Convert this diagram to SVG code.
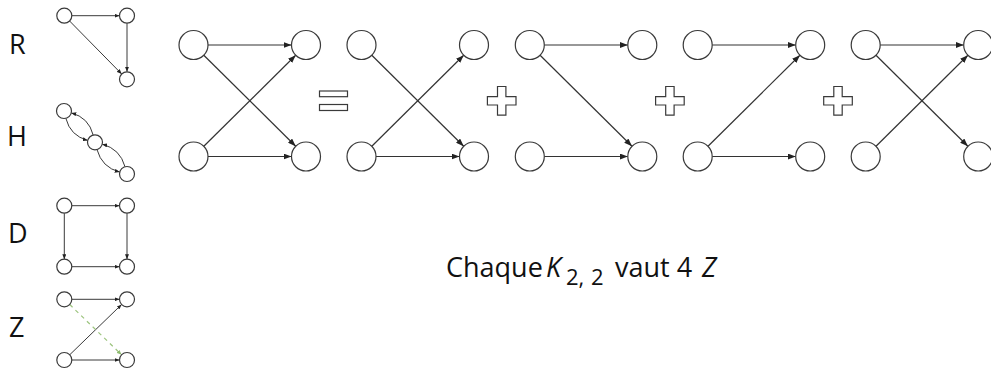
<svg xmlns="http://www.w3.org/2000/svg" width="991" height="370" viewBox="0 0 991 370">
<style>
.n{fill:#fff;stroke:#3a3a3a;stroke-width:1.2}
.e{fill:none;stroke:#333;stroke-width:1.2;marker-end:url(#a)}
.s{fill:none;stroke:#3a3a3a;stroke-width:1;marker-end:url(#sa)}
.g{fill:none;stroke:#9cc47e;stroke-width:1.2;stroke-dasharray:4 4;marker-end:url(#ga)}
.op{fill:#fff;stroke:#3a3a3a;stroke-width:1.2}
.lbl{font-family:"Open Sans","Noto Sans",sans-serif;font-size:27px;fill:#111}
</style>
<defs>
<marker id="a" markerUnits="userSpaceOnUse" markerWidth="8" markerHeight="6" refX="8" refY="3" orient="auto"><path d="M0,0L8,3L0,6z" fill="#222"/></marker>
<marker id="sa" markerUnits="userSpaceOnUse" markerWidth="5" markerHeight="4" refX="5" refY="2" orient="auto"><path d="M0,0L5,2L0,4z" fill="#222"/></marker>
<marker id="ga" markerUnits="userSpaceOnUse" markerWidth="5" markerHeight="4" refX="5" refY="2" orient="auto"><path d="M0,0L5,2L0,4z" fill="#8fbc6f"/></marker>
</defs>

<!-- labels -->
<text class="lbl" x="9" y="54">R</text>
<text class="lbl" x="7" y="146">H</text>
<text class="lbl" x="8" y="243">D</text>
<text class="lbl" x="9" y="337">Z</text>

<!-- R -->
<g id="R">
<g id="connectors-R">
<path class="s" d="M71.8,15.7H119.5"/>
<path class="s" d="M127,23.2V71.8"/>
<path class="s" d="M69.6,21L121.7,74"/>
</g>
<g id="R-n1"><circle class="n" cx="64.3" cy="15.7" r="7.5"/></g>
<g id="R-n2"><circle class="n" cx="127" cy="15.7" r="7.5"/></g>
<g id="R-n3"><circle class="n" cx="127" cy="79.3" r="7.5"/></g>
</g>

<!-- H -->
<g id="H">
<g id="connectors-H">
<path class="s" d="M93.16,135.02Q88.74,117.5 71.25,112.9"/>
<path class="s" d="M65.84,118.27Q70.26,135.8 87.75,140.4"/>
<path class="s" d="M125.03,166.76Q120.15,148.9 102.25,144.2"/>
<path class="s" d="M96.97,149.54Q101.85,167.4 119.75,172.1"/>
</g>
<g id="H-n1"><circle class="n" cx="64" cy="111" r="7.5"/></g>
<g id="H-n2"><circle class="n" cx="95" cy="142.3" r="7.5"/></g>
<g id="H-n3"><circle class="n" cx="127" cy="174" r="7.5"/></g>
</g>

<!-- D -->
<g id="D">
<g id="connectors-D">
<path class="s" d="M71.8,205.7H119.5"/>
<path class="s" d="M64.3,213.2V259.2"/>
<path class="s" d="M127,213.2V259.2"/>
<path class="s" d="M71.8,266.7H119.5"/>
</g>
<g id="D-n1"><circle class="n" cx="64.3" cy="205.7" r="7.5"/></g>
<g id="D-n2"><circle class="n" cx="127" cy="205.7" r="7.5"/></g>
<g id="D-n3"><circle class="n" cx="64.3" cy="266.7" r="7.5"/></g>
<g id="D-n4"><circle class="n" cx="127" cy="266.7" r="7.5"/></g>
</g>

<!-- Z -->
<g id="Z">
<g id="connectors-Z">
<path class="s" d="M71.8,299.3H119.5"/>
<path class="s" d="M71.8,360H119.5"/>
<path class="s" d="M69.7,354.8L121.6,304.5"/>
<path class="g" d="M69.7,304.5L121.6,354.8"/>
</g>
<g id="Z-n1"><circle class="n" cx="64.3" cy="299.3" r="7.5"/></g>
<g id="Z-n2"><circle class="n" cx="127" cy="299.3" r="7.5"/></g>
<g id="Z-n3"><circle class="n" cx="64.3" cy="360" r="7.5"/></g>
<g id="Z-n4"><circle class="n" cx="127" cy="360" r="7.5"/></g>
</g>

<!-- big diagram 1 -->
<g id="K1" transform="translate(193.5,0)">
<g id="connectors-K1">
<path class="e" d="M14.5,45H98"/>
<path class="e" d="M14.5,156.5H98"/>
<path class="e" d="M10.3,55.2L102.2,146.3"/>
<path class="e" d="M10.3,146.3L102.2,55.2"/>
</g>
<g id="K1-n1"><circle class="n" cx="0" cy="45" r="14.5"/></g>
<g id="K1-n2"><circle class="n" cx="112.5" cy="45" r="14.5"/></g>
<g id="K1-n3"><circle class="n" cx="0" cy="156.5" r="14.5"/></g>
<g id="K1-n4"><circle class="n" cx="112.5" cy="156.5" r="14.5"/></g>
</g>

<g id="equals">
<rect class="op" x="319.5" y="91" width="28" height="5.7"/>
<rect class="op" x="319.5" y="104.5" width="28" height="6"/>
</g>

<!-- big diagram 2 -->
<g id="K2" transform="translate(361.5,0)">
<g id="connectors-K2">
<path class="e" d="M14.5,156.5H98"/>
<path class="e" d="M10.3,55.2L102.2,146.3"/>
<path class="e" d="M10.3,146.3L102.2,55.2"/>
</g>
<g id="K2-n1"><circle class="n" cx="0" cy="45" r="14.5"/></g>
<g id="K2-n2"><circle class="n" cx="112.5" cy="45" r="14.5"/></g>
<g id="K2-n3"><circle class="n" cx="0" cy="156.5" r="14.5"/></g>
<g id="K2-n4"><circle class="n" cx="112.5" cy="156.5" r="14.5"/></g>
</g>

<g id="plus1" transform="translate(501.7,100.8)">
<polygon class="op" points="-4.2,-14.3 4.2,-14.3 4.2,-4.2 14.3,-4.2 14.3,4.2 4.2,4.2 4.2,14.3 -4.2,14.3 -4.2,4.2 -14.3,4.2 -14.3,-4.2 -4.2,-4.2"/>
</g>

<!-- big diagram 3 -->
<g id="K3" transform="translate(529.8,0)">
<g id="connectors-K3">
<path class="e" d="M14.5,45H98"/>
<path class="e" d="M14.5,156.5H98"/>
<path class="e" d="M10.3,55.2L102.2,146.3"/>
</g>
<g id="K3-n1"><circle class="n" cx="0" cy="45" r="14.5"/></g>
<g id="K3-n2"><circle class="n" cx="112.5" cy="45" r="14.5"/></g>
<g id="K3-n3"><circle class="n" cx="0" cy="156.5" r="14.5"/></g>
<g id="K3-n4"><circle class="n" cx="112.5" cy="156.5" r="14.5"/></g>
</g>

<g id="plus2" transform="translate(669.9,100.8)">
<polygon class="op" points="-4.2,-14.3 4.2,-14.3 4.2,-4.2 14.3,-4.2 14.3,4.2 4.2,4.2 4.2,14.3 -4.2,14.3 -4.2,4.2 -14.3,4.2 -14.3,-4.2 -4.2,-4.2"/>
</g>

<!-- big diagram 4 -->
<g id="K4" transform="translate(697.7,0)">
<g id="connectors-K4">
<path class="e" d="M14.5,45H98"/>
<path class="e" d="M14.5,156.5H98"/>
<path class="e" d="M10.3,146.3L102.2,55.2"/>
</g>
<g id="K4-n1"><circle class="n" cx="0" cy="45" r="14.5"/></g>
<g id="K4-n2"><circle class="n" cx="112.5" cy="45" r="14.5"/></g>
<g id="K4-n3"><circle class="n" cx="0" cy="156.5" r="14.5"/></g>
<g id="K4-n4"><circle class="n" cx="112.5" cy="156.5" r="14.5"/></g>
</g>

<g id="plus3" transform="translate(838,100.8)">
<polygon class="op" points="-4.2,-14.3 4.2,-14.3 4.2,-4.2 14.3,-4.2 14.3,4.2 4.2,4.2 4.2,14.3 -4.2,14.3 -4.2,4.2 -14.3,4.2 -14.3,-4.2 -4.2,-4.2"/>
</g>

<!-- big diagram 5 -->
<g id="K5" transform="translate(865.7,0)">
<g id="connectors-K5">
<path class="e" d="M14.5,45H98"/>
<path class="e" d="M10.3,55.2L102.2,146.3"/>
<path class="e" d="M10.3,146.3L102.2,55.2"/>
</g>
<g id="K5-n1"><circle class="n" cx="0" cy="45" r="14.5"/></g>
<g id="K5-n2"><circle class="n" cx="112.5" cy="45" r="14.5"/></g>
<g id="K5-n3"><circle class="n" cx="0" cy="156.5" r="14.5"/></g>
<g id="K5-n4"><circle class="n" cx="112.5" cy="156.5" r="14.5"/></g>
</g>

<text class="lbl" y="277"><tspan x="446">Chaque</tspan><tspan x="546" font-style="italic">K</tspan><tspan x="566" y="285" font-size="22">2,</tspan><tspan x="591" y="285" font-size="22">2</tspan><tspan x="615" y="277">vaut 4</tspan><tspan x="702" font-style="italic">Z</tspan></text>
</svg>
